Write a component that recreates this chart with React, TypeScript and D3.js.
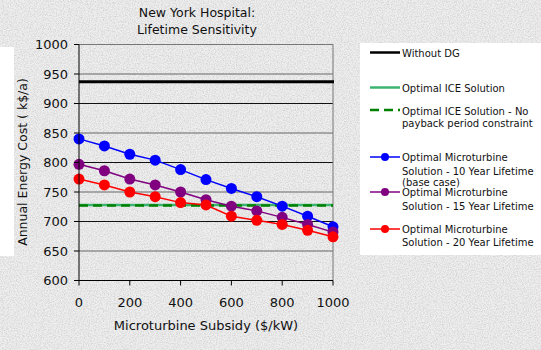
import React from "react";
import * as d3 from "d3";

const subsidies = [0, 100, 200, 300, 400, 500, 600, 700, 800, 900, 1000];
const withoutDG = 937;
const iceSolution = 728;
const iceNoPayback = 727;
const mt10 = [840, 828, 814, 804, 788, 771, 756, 742, 726, 709, 691];
const mt15 = [797, 786, 772, 762, 750, 737, 726, 718, 707, 695, 682];
const mt20 = [772, 762, 750, 742, 732, 728, 709, 702, 695, 685, 674];
const yTicks = [600, 650, 700, 750, 800, 850, 900, 950, 1000];
const xTicks = [0, 200, 400, 600, 800, 1000];

const FONT = "DejaVu Sans, Verdana, sans-serif";

export default function App() {
  const W = 541, H = 350;
  const x = d3.scaleLinear().domain([0, 1000]).range([79, 333]);
  const y = d3.scaleLinear().domain([600, 1000]).range([280.5, 44.5]);
  const line = d3.line<number>().x((_, i) => x(subsidies[i])).y((d) => y(d));

  const series = [
    { data: mt10, color: "#0000ff" },
    { data: mt15, color: "#800080" },
    { data: mt20, color: "#ff0000" },
  ];

  const gridColor = (v: number) => (v % 100 === 0 ? "#111" : "#666");

  return (
    <svg width={W} height={H} style={{ position: "absolute", left: 0, top: 0 }} fontFamily={FONT}>
      <defs>
        <filter id="granite" x="0" y="0" width="100%" height="100%">
          <feTurbulence type="fractalNoise" baseFrequency="0.85" numOctaves="3" seed="3" />
          <feColorMatrix type="matrix" values="0 0 0 0 0.5  0 0 0 0 0.5  0 0 0 0 0.5  0 0 0 -2.2 1.35" />
        </filter>
      </defs>
      <rect x={0} y={0} width={W} height={H} fill="#eeeeee" />
      <rect x={0} y={0} width={W} height={H} filter="url(#granite)" opacity={0.55} />
      <rect x={0} y={47} width={14} height={209} fill="#ffffff" />

      {/* title */}
      <text x={197} y={17} textAnchor="middle" fontSize={12.5} fill="#111">New York Hospital:</text>
      <text x={197} y={34} textAnchor="middle" fontSize={12.5} fill="#111">Lifetime Sensitivity</text>

      {/* gridlines */}
      {yTicks.filter((v) => v > 600 && v < 1000).map((v) => (
        <line key={v} x1={x(0)} x2={x(1000)} y1={y(v)} y2={y(v)} stroke={gridColor(v)} strokeWidth={1} />
      ))}
      {/* plot border top/right */}
      <line x1={x(0)} x2={x(1000)} y1={y(1000)} y2={y(1000)} stroke="#777" strokeWidth={1} />
      <line x1={x(1000)} x2={x(1000)} y1={y(1000)} y2={y(600)} stroke="#777" strokeWidth={1} />

      {/* reference lines */}
      <line x1={x(0)} x2={x(1000)} y1={y(iceSolution)} y2={y(iceSolution)} stroke="#3cb371" strokeWidth={2.5} />
      <line x1={x(0)} x2={x(1000)} y1={y(iceNoPayback)} y2={y(iceNoPayback)} stroke="#008000" strokeWidth={2.5} strokeDasharray="9,5" />
      <line x1={x(0)} x2={x(1000) + 1} y1={y(withoutDG)} y2={y(withoutDG)} stroke="#000" strokeWidth={3} />

      {/* series */}
      {series.map((s, si) => (
        <g key={si}>
          <path d={line(s.data) || ""} fill="none" stroke={s.color} strokeWidth={1.5} />
          {s.data.map((v, i) => (
            <circle key={i} cx={x(subsidies[i])} cy={y(v)} r={5.5} fill={s.color} />
          ))}
        </g>
      ))}

      {/* axes */}
      <line x1={x(0)} x2={x(0)} y1={y(1000)} y2={y(600)} stroke="#000" strokeWidth={1} />
      <line x1={x(0) - 5} x2={x(1000)} y1={y(600)} y2={y(600)} stroke="#000" strokeWidth={1.2} />
      {yTicks.map((v) => (
        <g key={v}>
          <line x1={x(0) - 5} x2={x(0)} y1={y(v)} y2={y(v)} stroke="#000" />
          <text x={68} y={y(v) + 4.5} textAnchor="end" fontSize={13} fill="#111">{v}</text>
        </g>
      ))}
      {xTicks.map((v) => (
        <g key={v}>
          <line x1={x(v)} x2={x(v)} y1={y(600)} y2={y(600) + 5} stroke="#000" />
          <text x={x(v)} y={307} textAnchor="middle" fontSize={13} fill="#111">{v}</text>
        </g>
      ))}
      <text x={206} y={330} textAnchor="middle" fontSize={13} fill="#111">Microturbine Subsidy ($/kW)</text>
      <text transform="translate(27,162) rotate(-90)" textAnchor="middle" fontSize={12.5} fill="#111">Annual Energy Cost ( k$/a)</text>

      {/* legend */}
      <rect x={360} y={43} width={181} height={212} fill="#ffffff" />
      <g fontSize={10} fill="#111">
        <line x1={370} x2={400} y1={52.5} y2={52.5} stroke="#000" strokeWidth={2.5} />
        <text x={402} y={56.5}>Without DG</text>

        <line x1={370} x2={400} y1={87.5} y2={87.5} stroke="#3cb371" strokeWidth={2.5} />
        <text x={402} y={91.5}>Optimal ICE Solution</text>

        <line x1={370} x2={400} y1={110} y2={110} stroke="#008000" strokeWidth={2.5} strokeDasharray="9,5" />
        <text x={402} y={114.5}>Optimal ICE Solution - No</text>
        <text x={402} y={126.5}>payback period constraint</text>

        <line x1={370} x2={400} y1={157} y2={157} stroke="#0000ff" strokeWidth={1.5} />
        <circle cx={385} cy={157} r={4} fill="#0000ff" />
        <text x={402} y={161}>Optimal Microturbine</text>
        <text x={402} y={174.5}>Solution - 10 Year Lifetime</text>
        <text x={402} y={185.5}>(base case)</text>

        <line x1={370} x2={400} y1={192} y2={192} stroke="#800080" strokeWidth={1.5} />
        <circle cx={385} cy={192} r={4} fill="#800080" />
        <text x={402} y={196}>Optimal Microturbine</text>
        <text x={402} y={209.5}>Solution - 15 Year Lifetime</text>

        <line x1={370} x2={400} y1={229} y2={229} stroke="#ff0000" strokeWidth={1.5} />
        <circle cx={385} cy={229} r={4} fill="#ff0000" />
        <text x={402} y={233}>Optimal Microturbine</text>
        <text x={402} y={246}>Solution - 20 Year Lifetime</text>
      </g>
    </svg>
  );
}
